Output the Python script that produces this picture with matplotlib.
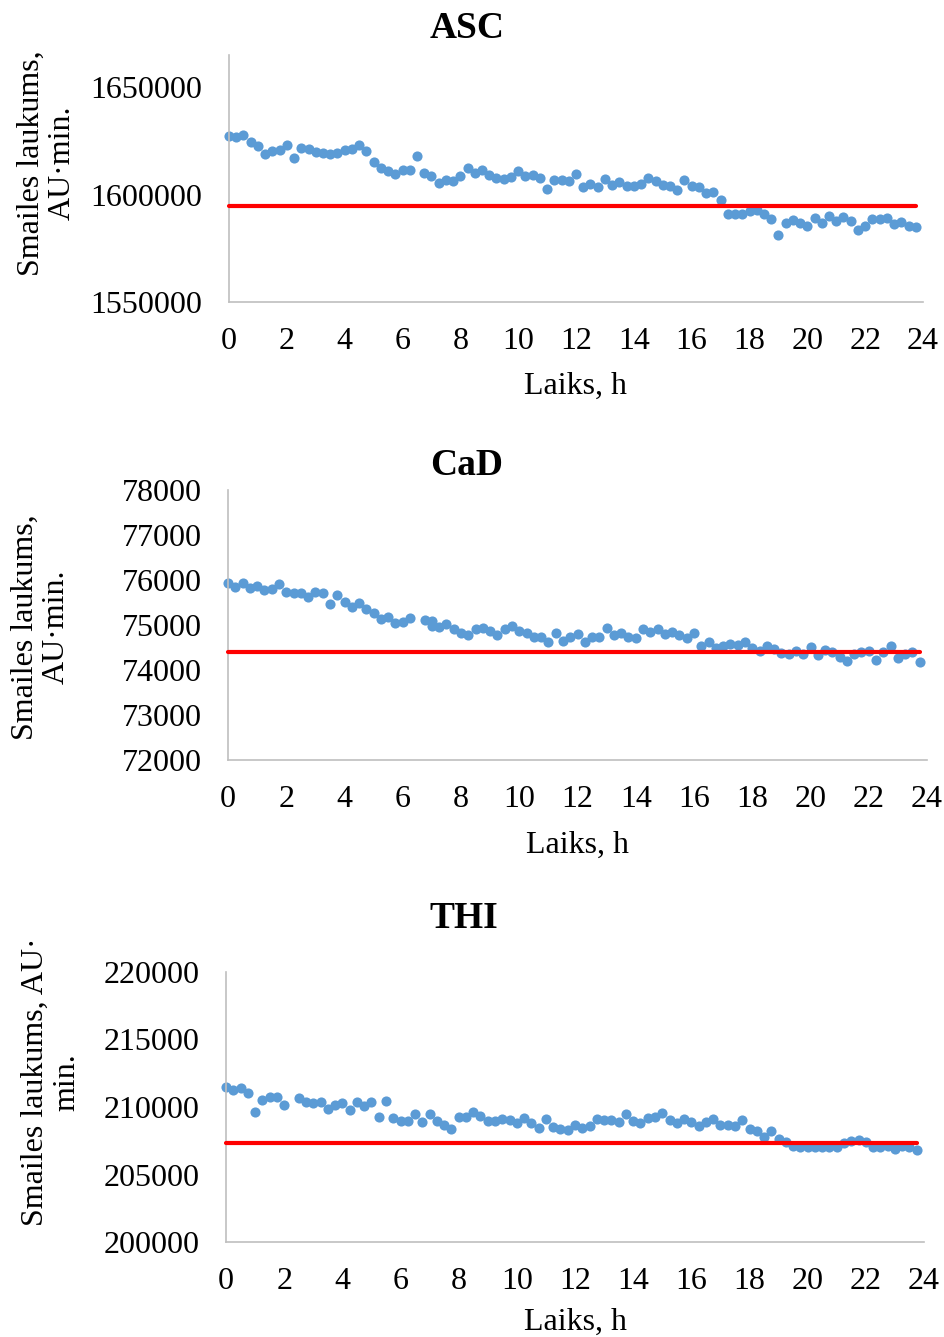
import numpy as np
import matplotlib
matplotlib.use("Agg")
import matplotlib.pyplot as plt

W, H = 944, 1337

# ---------------- data ----------------
asc_times = [i * 0.25 for i in range(96)]
asc_values = [
    1627240, 1626960, 1627570, 1624450, 1622580, 1618840, 1620240, 1620560, 1622900, 1616970,
    1621500, 1621350, 1619950, 1619160, 1618840, 1619470, 1620720, 1621350, 1622900, 1620240,
    1615100, 1612480, 1610920, 1609670, 1611360, 1611680, 1617920, 1610140, 1608580, 1605460,
    1606700, 1606230, 1608580, 1612480, 1610140, 1611680, 1609050, 1607800, 1607330, 1608100,
    1610920, 1608580, 1609350, 1607800, 1602660, 1607010, 1606700, 1606230, 1609670,
    1603430, 1605140, 1603430, 1607480, 1604670, 1605760, 1604200, 1604200, 1605140, 1607800,
    1606230, 1604670, 1603880, 1602010, 1607010, 1604200, 1603600, 1600790, 1601090, 1597660,
    1590980, 1590980, 1590980, 1592520, 1592680, 1591120, 1588780, 1580990, 1586770, 1588320,
    1586770, 1585190, 1589110, 1586770, 1589860, 1587850, 1589580, 1587520, 1583320, 1585190,
    1588640, 1588780, 1589110, 1586450, 1587060, 1585510, 1584720,
]
asc_limit = 1594500

cad_times = ([i * 0.25 for i in range(26)] + [6.75, 7.0, 7.0]
             + [7.25 + 0.25 * k for k in range(67)])
cad_values = [
    75927, 75852, 75927, 75830, 75867, 75778, 75793, 75911, 75726, 75718,
    75704, 75630, 75740, 75704, 75459, 75667, 75518, 75407, 75481, 75348,
    75274, 75126, 75185, 75037, 75067, 75148,
    75111, 75089, 74978, 74963, 75022, 74904, 74815, 74778, 74904, 74926,
    74867, 74778, 74904, 74978, 74867, 74830, 74726, 74726, 74630, 74830,
    74652, 74726, 74800,
    74630, 74726, 74741, 74926, 74778, 74830, 74741, 74704, 74904, 74837,
    74904, 74793, 74852, 74778, 74704, 74815, 74533, 74630, 74482, 74541,
    74578, 74556, 74630, 74496, 74422, 74533, 74467, 74370, 74356, 74422,
    74348, 74518, 74333, 74444, 74407, 74296, 74207, 74348, 74407, 74422,
    74222, 74407, 74533, 74274, 74348, 74407, 74170,
]
cad_limit = 74400

thi_times = [i * 0.25 for i in range(96) if i != 9]
thi_values = [
    211504, 211259, 211383, 211012, 209654, 210519, 210763, 210763, 210148,
    210642, 210395, 210321, 210395, 209852, 210148, 210272, 209778, 210346, 210074,
    210346, 209284, 210444, 209161, 208963, 208963, 209457, 208864, 209457, 208963,
    208667, 208370, 209235, 209235, 209654, 209333, 208963, 208988, 209111, 209037,
    208840, 209161, 208790, 208420, 209086, 208494, 208370, 208296, 208667,
    208420, 208593, 209111, 209037, 209037, 208914, 209457, 208988, 208790, 209161,
    209235, 209580, 209037, 208840, 209111, 208864, 208593, 208914, 209086, 208667,
    208667, 208593, 209037, 208346, 208247, 207756, 208247, 207607, 207430, 207111,
    207015, 207015, 207060, 207015, 207015, 207015, 207356, 207481, 207555, 207430,
    207015, 207015, 207111, 206867, 207111, 207060, 206815,
]
thi_limit = 207300

titles = ["ASC", "CaD", "THI"]
ylabels = ["Smailes laukums,\nAU·min.", "Smailes laukums,\nAU·min.", "Smailes laukums, AU·\nmin."]
xlabel = "Laiks, h"
x_ticks = list(range(0, 25, 2))
asc_yticks = [1550000, 1600000, 1650000]
cad_yticks = [72000, 73000, 74000, 75000, 76000, 77000, 78000]
thi_yticks = [200000, 205000, 210000, 215000, 220000]

# ---------------- style ----------------
plt.rcParams['font.family'] = ['Liberation Serif', 'DejaVu Serif']
BLUE = "#5B9BD5"
RED = "#FF0000"
GRAY = "#BFBFBF"
FS = 23

fig = plt.figure(figsize=(W / 100, H / 100), dpi=100)


def fx(x):
    return x / W


def fy(y):
    return 1 - y / H


panels = [
    dict(times=asc_times, values=asc_values, limit=asc_limit, yticks=asc_yticks,
         ylim=(1550000, 1665000), box=(229, 923, 55, 302), title_xy=(467, 28),
         ylab_xy=(47, 163), xlab_y=386),
    dict(times=cad_times, values=cad_values, limit=cad_limit, yticks=cad_yticks,
         ylim=(72000, 78000), box=(228, 927, 490, 760), title_xy=(467, 466),
         ylab_xy=(41, 627), xlab_y=845),
    dict(times=thi_times, values=thi_values, limit=thi_limit, yticks=thi_yticks,
         ylim=(200000, 220000), box=(226, 924, 972, 1242), title_xy=(464, 918),
         ylab_xy=(51, 1082), xlab_y=1322),
]

for p, title, ylab in zip(panels, titles, ylabels):
    l, r, t, b = p["box"]
    ax = fig.add_axes([fx(l), fy(b), (r - l) / W, (b - t) / H])
    ax.plot(p["times"], p["values"], linestyle="none", marker="o",
            markersize=7.3, color=BLUE, markeredgewidth=0, zorder=2)
    ax.plot([0, p["times"][-1]], [p["limit"], p["limit"]], color=RED,
            linewidth=3, solid_capstyle="round", zorder=3)
    ax.set_xlim(0, 24)
    ax.set_ylim(*p["ylim"])
    ax.set_xticks(x_ticks)
    ax.set_yticks(p["yticks"])
    ax.set_yticklabels([str(v) for v in p["yticks"]])
    ax.tick_params(axis="both", length=0, labelsize=FS)
    ax.tick_params(axis="x", pad=18)
    ax.tick_params(axis="y", pad=19)
    for s in ["top", "right"]:
        ax.spines[s].set_visible(False)
    for s in ["left", "bottom"]:
        ax.spines[s].set_color(GRAY)
        ax.spines[s].set_linewidth(1.2)
    ax.set_facecolor("white")
    for ln in ax.lines:
        ln.set_clip_on(False)

    fig.text(fx(p["title_xy"][0]), fy(p["title_xy"][1]), title, ha="center",
             va="center", fontsize=27, fontweight="bold")
    fig.text(fx(p["ylab_xy"][0]), fy(p["ylab_xy"][1]), ylab, ha="center",
             va="center", rotation=90, fontsize=FS, multialignment="center",
             linespacing=1.1)
    fig.text(fx((l + r) / 2), fy(p["xlab_y"]), xlabel, ha="center",
             va="center", fontsize=FS)

fig.savefig("out.png", dpi=100, facecolor="white")
